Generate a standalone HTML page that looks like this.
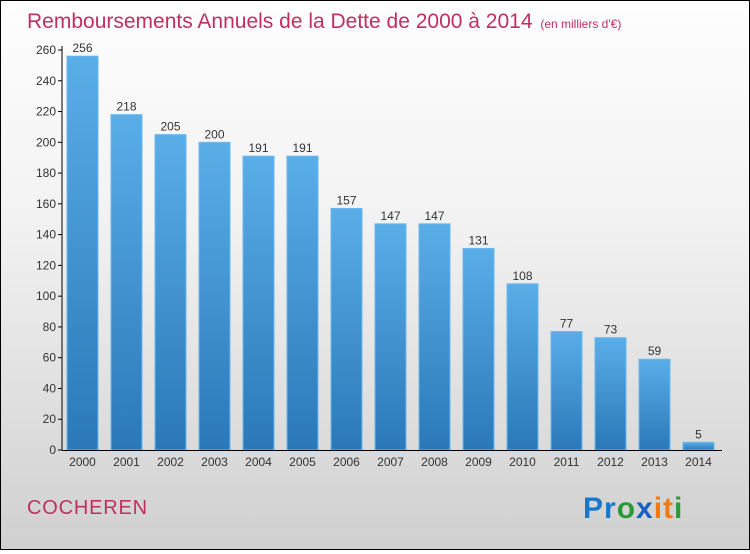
<!DOCTYPE html>
<html><head><meta charset="utf-8"><style>
html,body{margin:0;padding:0}
body{width:750px;height:550px;overflow:hidden;font-family:"Liberation Sans",sans-serif}
#wrap{position:absolute;left:0;top:0;width:748px;height:548px;border:1px solid #000;background:linear-gradient(#fefefe,#f2f2f2 40%,#d0d0d0)}
</style></head><body>
<div id="wrap">
<svg id="c" width="748" height="548">
<defs><linearGradient id="bg" x1="0" y1="0" x2="0" y2="1"><stop offset="0" stop-color="#5aaee8"/><stop offset="1" stop-color="#2a78b8"/></linearGradient></defs>
<text x="26" y="27" font-size="21" fill="#c0305e">Remboursements Annuels de la Dette de 2000 à 2014 <tspan font-size="12" dx="2">(en milliers d'€)</tspan></text>
<text x="26" y="513" font-size="20" fill="#c0305e" letter-spacing="0.8">COCHEREN</text>
<g font-size="30" font-weight="bold" font-family="'Liberation Sans',sans-serif"><text x="582" y="517" letter-spacing="1"><tspan fill="#1a78c8">Pr</tspan><tspan fill="#2a9a3a">o</tspan><tspan fill="#1a60c0">x</tspan><tspan fill="#f07a10">i</tspan><tspan fill="#f07a10">t</tspan><tspan fill="#2a9a3a">i</tspan></text></g>
<g id="plot"></g>
</svg></div>
<script>
const categories=["2000","2001","2002","2003","2004","2005","2006","2007","2008","2009","2010","2011","2012","2013","2014"];
const values=[256,218,205,200,191,191,157,147,147,131,108,77,73,59,5];
const ticks=[0,20,40,60,80,100,120,140,160,180,200,220,240,260];
const NS="http://www.w3.org/2000/svg";
const g=document.getElementById("plot");
const x0=61,x1=721,y0=449,yTop=49,maxV=260;
const yS=v=>y0-(v/maxV)*(y0-yTop);
const step=(x1-x0)/categories.length;
const xS=i=>x0+i*step;
function mk(t,a){const e=document.createElementNS(NS,t);for(const k in a)e.setAttribute(k,a[k]);g.appendChild(e);return e;}
ticks.forEach(t=>{
 const l=mk("line",{x1:x0-4,x2:x0,y1:yS(t),y2:yS(t),stroke:"#000"});
 
 
 const tx=mk("text",{x:x0-6,y:yS(t)+4,"font-size":12,"text-anchor":"end",fill:"#333"});
 tx.textContent=t;
 
 
});
values.forEach((v,i)=>{
 const bx=xS(i)+5,bw=step-13;
 const r=mk("rect",{x:bx,y:yS(v),width:bw,height:y0-yS(v),fill:"url(#bg)",stroke:"#6bb8ee","stroke-width":1});
 
 
 const vl=mk("text",{x:bx+bw/2,y:yS(v)-4,"font-size":12,"text-anchor":"middle",fill:"#333"});
 vl.textContent=v;
 
 
 const cl=mk("text",{x:bx+bw/2,y:y0+16,"font-size":12,"text-anchor":"middle",fill:"#333"});
 cl.textContent=categories[i];
 
 
});
const ya=mk("line",{x1:x0,x2:x0,y1:yTop-4,y2:y0,stroke:"#000"});


const xa=mk("line",{x1:x0,x2:x1,y1:y0+0.5,y2:y0+0.5,stroke:"#000"});


</script>
</body></html>
